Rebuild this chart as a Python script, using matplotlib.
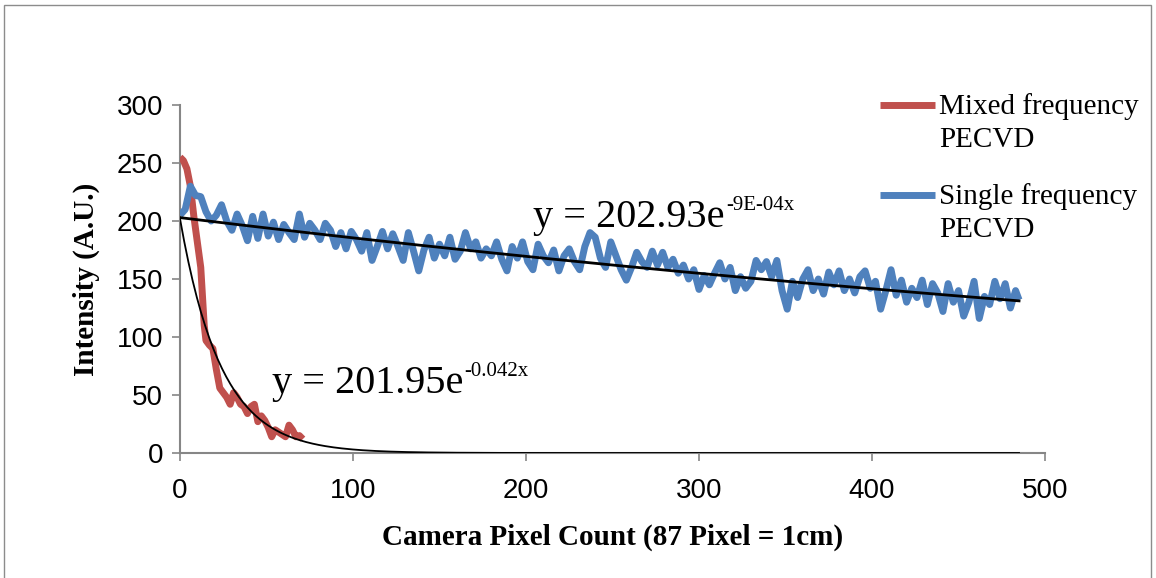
import numpy as np
import matplotlib
matplotlib.use("Agg")
import matplotlib.pyplot as plt
from matplotlib.patches import Rectangle
from matplotlib.lines import Line2D
from matplotlib.transforms import offset_copy

# ---- data ----
single_x = [0, 3, 6, 9, 12, 15, 18, 21, 24, 27, 30, 33, 36, 39, 42, 45, 48, 51, 54, 57,
            60, 63, 66, 69, 72, 75, 78, 81, 84, 87, 90, 93, 96, 99, 102, 105, 108, 111, 114, 117,
            120, 123, 126, 129, 132, 135, 138, 141, 144, 147, 150, 153, 156, 159, 162, 165, 168, 171, 174, 177,
            180, 183, 186, 189, 192, 195, 198, 201, 204, 207, 210, 213, 216, 219, 222, 225, 228, 231, 234, 237,
            240, 243, 246, 249, 252, 255, 258, 261, 264, 267, 270, 273, 276, 279, 282, 285, 288, 291, 294, 297,
            300, 303, 306, 309, 312, 315, 318, 321, 324, 327, 330, 333, 336, 339, 342, 345, 348, 351, 354, 357,
            360, 363, 366, 369, 372, 375, 378, 381, 384, 387, 390, 393, 396, 399, 402, 405, 408, 411, 414, 417,
            420, 423, 426, 429, 432, 435, 438, 441, 444, 447, 450, 453, 456, 459, 462, 465, 468, 471, 474, 477,
            480, 483, 485]
single_y = [205, 210, 230, 222, 221, 208, 200, 205, 214, 200, 192, 206, 196, 183, 204, 185, 206, 187, 199, 184,
            197, 190, 184, 206, 186, 198, 192, 184, 198, 192, 178, 190, 176, 191, 184, 174, 190, 166, 178, 191,
            176, 189, 178, 166, 190, 174, 157, 175, 186, 168, 180, 170, 186, 167, 174, 190, 176, 182, 168, 176,
            170, 182, 167, 157, 178, 168, 182, 165, 158, 180, 170, 164, 175, 157, 170, 176, 165, 158, 178, 190,
            186, 168, 160, 182, 170, 158, 149, 160, 173, 165, 160, 174, 162, 173, 160, 167, 155, 162, 150, 158,
            141, 153, 145, 155, 164, 150, 160, 140, 152, 142, 148, 166, 158, 165, 152, 166, 140, 124, 148, 134,
            150, 158, 140, 150, 137, 156, 145, 157, 140, 150, 138, 152, 157, 142, 148, 124, 140, 158, 136, 149,
            130, 142, 134, 149, 128, 146, 138, 122, 146, 130, 140, 118, 130, 148, 116, 135, 128, 148, 133, 146,
            125, 140, 132]

mixed_x = [0, 2, 4, 6, 8, 10, 12, 13, 14, 15, 17, 19, 21, 23, 25, 27, 29, 31, 33, 35,
           37, 39, 41, 43, 45, 47, 49, 51, 53, 55, 57, 59, 61, 63, 65, 67, 69, 71]
mixed_y = [255, 252, 245, 230, 204, 182, 160, 135, 110, 97, 93, 90, 72, 56, 52, 48, 42, 52, 48, 42,
           40, 34, 40, 42, 27, 32, 28, 22, 14, 20, 18, 16, 14, 24, 20, 14, 15, 12]

# trendline coefficients as printed on the chart
single_a, single_b = 202.93, -9e-4
mixed_a, mixed_b = 201.95, -0.042
trend_x_max = 485

series_labels = [("Mixed frequency", "PECVD"), ("Single frequency", "PECVD")]
x_ticks = [0, 100, 200, 300, 400, 500]
y_ticks = [0, 50, 100, 150, 200, 250, 300]

# ---- figure ----
W, H = 1156, 578
fig = plt.figure(figsize=(W / 100, H / 100), dpi=100)
fig.patch.set_facecolor("white")

# outer border
fig.add_artist(Rectangle((4 / W, -0.01), (1151 - 4) / W, (H - 5) / H + 0.01,
                         transform=fig.transFigure, fill=False, edgecolor="#8c8c8c", lw=1.0))

ax = fig.add_axes([180 / W, (H - 453) / H, (1045 - 180) / W, (453 - 105) / H])

red = "#C0504D"
blue = "#4F81BD"
grey = "#868686"

ax.plot(mixed_x, mixed_y, color=red, lw=5.0, solid_capstyle="butt", zorder=3)
ax.plot(single_x, single_y, color=blue, lw=5.0, solid_capstyle="butt", zorder=3)

tx = np.linspace(0, trend_x_max, 400)
ax.plot(tx, single_a * np.exp(single_b * tx), color="black", lw=2.0, zorder=4)
ax.plot(tx, mixed_a * np.exp(mixed_b * tx), color="black", lw=1.3, zorder=4)

ax.set_xlim(0, 500)
ax.set_ylim(0, 300)
ax.set_xticks(x_ticks)
ax.set_yticks(y_ticks)
for s in ["top", "right"]:
    ax.spines[s].set_visible(False)
for s in ["left", "bottom"]:
    ax.spines[s].set_color(grey)
    ax.spines[s].set_linewidth(1.5)
ax.tick_params(axis="both", direction="out", length=6, width=1.2, color=grey, labelsize=20)
ax.tick_params(axis="x", pad=12)
ax.tick_params(axis="y", pad=6)
for lab in ax.get_xticklabels() + ax.get_yticklabels():
    lab.set_family("Liberation Sans")

serif = "Liberation Serif"
ax.set_xlabel("Camera Pixel Count (87 Pixel = 1cm)", family=serif, fontweight="bold",
              fontsize=21, labelpad=14)
ax.set_ylabel("Intensity (A.U.)", family=serif, fontweight="bold", fontsize=21, labelpad=12)

# equations (main text + superscript placed right after it)
fig.canvas.draw()
renderer = fig.canvas.get_renderer()


def equation(x, y, main, sup):
    t = ax.text(x, y, main, family=serif, fontsize=29, ha="left", va="baseline", zorder=5)
    bb = t.get_window_extent(renderer=renderer)
    xd, _ = ax.transData.inverted().transform((bb.x1, 0))
    tr = offset_copy(ax.transData, fig=fig, x=1, y=12, units="points")
    ax.text(xd, y, sup, family=serif, fontsize=15, ha="left", va="baseline",
            transform=tr, zorder=5)


equation(204, 195, "y = 202.93e", "-9E-04x")
equation(53, 52, "y = 201.95e", "-0.042x")

# legend drawn in figure pixel coordinates
leg_colors = [red, blue]
leg_y = [105, 195]
for (l1, l2), c, yy in zip(series_labels, leg_colors, leg_y):
    fig.add_artist(Line2D([880 / W, 935 / W], [1 - yy / H, 1 - yy / H], color=c, lw=5.0,
                          transform=fig.transFigure, solid_capstyle="butt"))
    fig.text(939 / W, 1 - (yy + 2) / H, l1, family=serif, fontsize=21, ha="left", va="center")
    fig.text(939 / W, 1 - (yy + 35) / H, l2, family=serif, fontsize=21, ha="left", va="center")

fig.savefig("out.png", dpi=100)
